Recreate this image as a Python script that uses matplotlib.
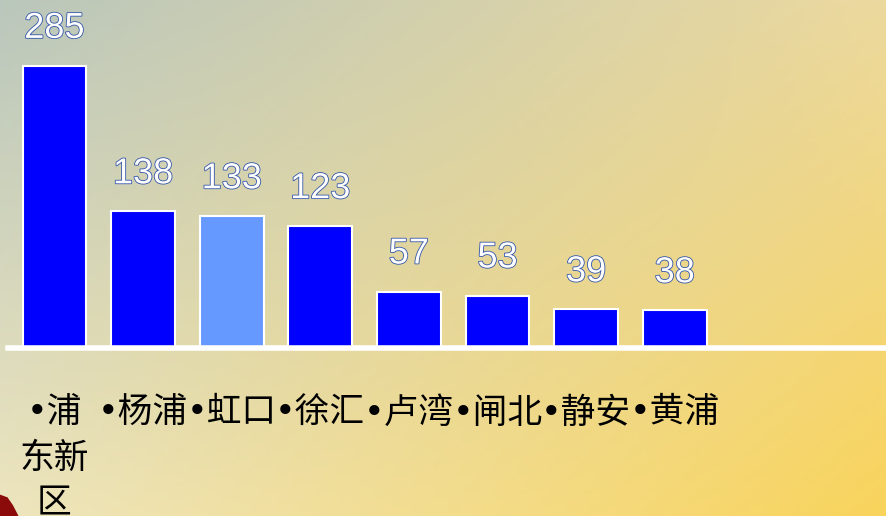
import matplotlib.pyplot as plt
import matplotlib.patheffects as pe
import numpy as np

plt.rcParams['font.family'] = ['DejaVu Sans', 'Noto Sans CJK SC']

# data
districts = ['•浦\n东新\n区', '•杨浦', '•虹口', '•徐汇', '•卢湾', '•闸北', '•静安', '•黄浦']
counts = [285, 138, 133, 123, 57, 53, 39, 38]
bar_colors = ['#0000FF', '#0000FF', '#6699FF', '#0000FF', '#0000FF', '#0000FF', '#0000FF', '#0000FF']

fig = plt.figure(figsize=(8.86, 5.16), dpi=100)

# gradient background (corner colours)
bg = fig.add_axes([0, 0, 1, 1])
tl = np.array([186, 199, 188]) / 255
tr = np.array([236, 217, 158]) / 255
bl = np.array([237, 229, 190]) / 255
br = np.array([249, 212, 92]) / 255
u = np.linspace(0, 1, 200)[None, :, None]
v = np.linspace(0, 1, 120)[:, None, None]
img = (1 - v) * ((1 - u) * tl + u * tr) + v * ((1 - u) * bl + u * br)
bg.imshow(img, aspect='auto', extent=[0, 1, 0, 1], origin='upper')
bg.fill([0, 0.008, 0.014, 0.02, 0.0], [0.04, 0.035, 0.02, 0.0, 0.0], color='#8B0A0A')
bg.set_xlim(0, 1)
bg.set_ylim(0, 1)
bg.axis('off')

ax = fig.add_axes([0, 0, 1, 1])
ax.patch.set_alpha(0)
x = np.arange(len(counts))
ax.bar(x, counts, width=0.72, color=bar_colors, edgecolor='white', linewidth=1.5, zorder=2)
ax.axhline(0, xmin=8 / 886, xmax=1, color='white', lw=4, zorder=3)

outline = [pe.withStroke(linewidth=1.2, foreground='#3355AA')]
for xi, c in zip(x, counts):
    ax.text(xi, c + 38, str(c), ha='center', va='center', fontsize=26, color='white',
            family='Liberation Sans', path_effects=outline, zorder=4)

for xi, name in zip(x, districts):
    ax.text(xi, -48, name, ha='center', va='top', fontsize=25, color='black',
            linespacing=1.42, zorder=4)

ax.set_xlim(-0.615, 9.385)
ax.set_ylim(-169.8, 351.7)
ax.axis('off')

fig.savefig('out.png', dpi=100)
